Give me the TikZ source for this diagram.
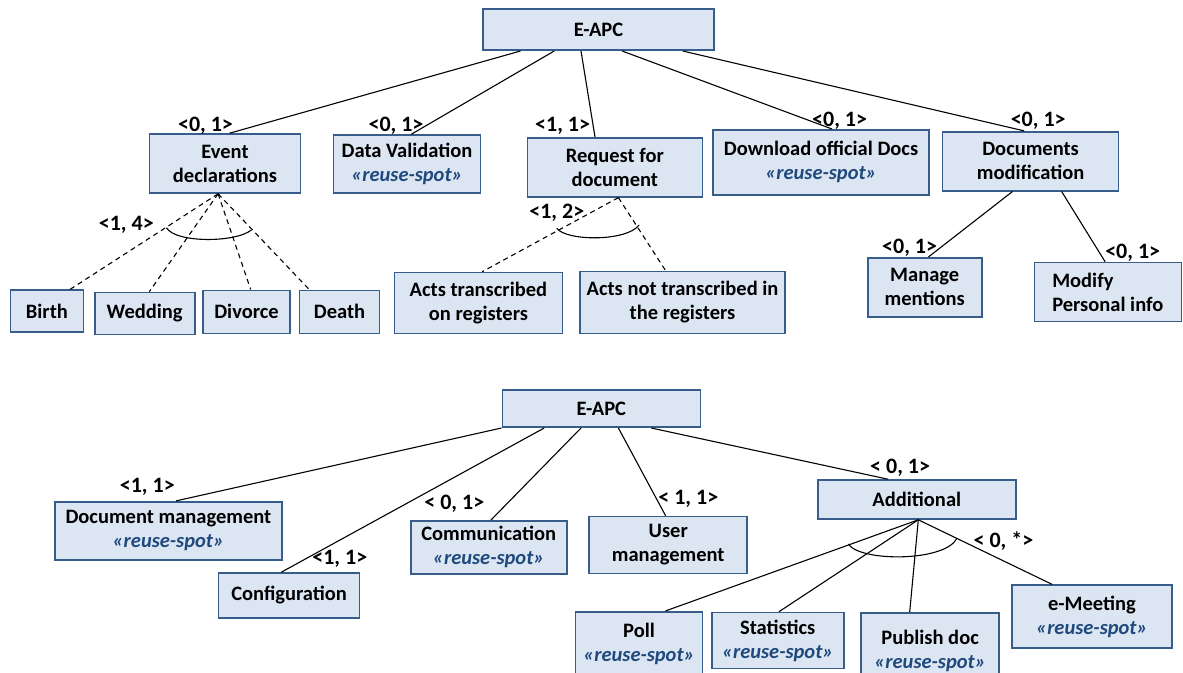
\documentclass[tikz,border=0pt]{standalone}
\usepackage{fontspec}
\setmainfont{Carlito}
\definecolor{boxfill}{HTML}{DCE6F2}
\definecolor{boxline}{HTML}{385D8A}
\definecolor{spotblue}{HTML}{1F497D}
\newcommand{\reusespot}{\textcolor{spotblue}{\itshape «reuse-spot»}}
\tikzset{feat/.style={draw=boxline, fill=boxfill, line width=1.6pt, inner sep=0pt,
    align=center, font=\bfseries\fontsize{20.5}{24}\selectfont},
  card/.style={inner sep=0pt, font=\bfseries\fontsize{22}{24}\selectfont},
  opt/.style={line width=1.1pt},
  grp/.style={line width=1.1pt, dash pattern=on 5pt off 4pt}}

\begin{document}
\begin{tikzpicture}[x=1pt, y=-1pt]
  \clip (0,0) rectangle (1183,672);
%% first tree
  \node[feat, minimum width=231, minimum height=41] (root) at (598.5,29.7) {E-APC};
  \node[feat, minimum width=151, minimum height=59] (evt) at (225,163.5) {Event\\declarations};
  \node[feat, minimum width=147, minimum height=58] (dval) at (407,164) {Data Validation\\\reusespot};
  \node[feat, minimum width=175, minimum height=59] (req) at (614.8,167.3) {Request for\\document};
  \node[feat, minimum width=216, minimum height=65] (dl) at (821,162.3) {Download official Docs\\\reusespot};
  \node[feat, minimum width=176, minimum height=59] (dmod) at (1030.6,161.2) {Documents\\modification};
  \node[feat, minimum width=114, minimum height=59] (mng) at (924.7,287.2) {Manage\\mentions};
  \node[feat, minimum width=147, minimum height=59, align=left] (mdf) at (1107.8,292) {Modify\\Personal info};
  \node[feat, minimum width=73, minimum height=42] (birth) at (46.9,311.2) {Birth};
  \node[feat, minimum width=100, minimum height=42] (wed) at (144.7,313.5) {Wedding};
  \node[feat, minimum width=87, minimum height=43] (div) at (246.5,311.8) {Divorce};
  \node[feat, minimum width=80, minimum height=43] (death) at (339.5,311.8) {Death};
  \node[feat, minimum width=168, minimum height=61] (acts) at (478.4,303) {Acts transcribed\\on registers};
  \node[feat, minimum width=205, minimum height=62] (actsn) at (682.5,302.4) {Acts not transcribed in\\the registers};

  \draw[opt] ([xshift=-78]root.south) -- ([xshift=4.6]evt.north);
  \draw[opt] ([xshift=-44.3]root.south) -- ([xshift=4.4]dval.north);
  \draw[opt] ([xshift=-17.5]root.south) -- ([xshift=-19.8]req.north);
  \draw[opt] ([xshift=23.6]root.south) -- ([xshift=11]dl.north);
  \draw[opt] ([xshift=84.2]root.south) -- ([xshift=-6.4]dmod.north);
  \draw[opt] ([xshift=-18.1]dmod.south) -- ([xshift=3.8]mng.north);
  \draw[opt] ([xshift=31]dmod.south) -- ([xshift=-2.7]mdf.north);

  \coordinate (evtj) at ([xshift=-6.9]evt.south);
  \foreach \n/\dx in {birth/23.1, wed/4.6, div/4.2, death/-30.3}
    \draw[grp] (evtj) -- ([xshift=\dx]\n.north);
  \draw[opt] (166.5,227.7) .. controls (175,243) and (235,243) .. (251.4,230);

  \coordinate (reqj) at ([xshift=3.6]req.south);
  \draw[grp] (reqj) -- ([xshift=3.8]acts.north);
  \draw[grp] (reqj) -- ([xshift=-16.9]actsn.north);
  \draw[opt] (556.8,228.3) .. controls (566,241) and (626,242) .. (639.2,225);

  \node[card] (c1) at (205.5,126) {<0, 1>};
  \node[card] (c2) at (396,126) {<0, 1>};
  \node[card] (c3) at (562.6,126) {<1, 1>};
  \node[card] (c4) at (839.6,121) {<0, 1>};
  \node[card] (c5) at (1038.2,121) {<0, 1>};
  \node[card] (c6) at (909.6,248) {<0, 1>};
  \node[card] (c7) at (1132.7,252.7) {<0, 1>};
  \node[card] (c8) at (126.3,225) {<1, 4>};
  \node[card] (c9) at (556.8,212.3) {<1, 2>};

%% second tree
  \node[feat, minimum width=198, minimum height=37] (root2) at (601.3,408.7) {E-APC};
  \node[feat, minimum width=227, minimum height=58] (dmg) at (168.4,530.7) {Document management\\\reusespot};
  \node[feat, minimum width=141, minimum height=45] (cfg) at (289.1,595.5) {Configuration};
  \node[feat, minimum width=156, minimum height=53] (com) at (488.7,547.3) {Communication\\\reusespot};
  \node[feat, minimum width=158, minimum height=57] (usr) at (668.2,545) {User\\management};
  \node[feat, minimum width=198, minimum height=39] (add) at (916.8,499.5) {Additional};
  \node[feat, minimum width=127, minimum height=65] (poll) at (639,644.2) {Poll\\\reusespot};
  \node[feat, minimum width=132, minimum height=56] (stat) at (777.7,640.5) {Statistics\\\reusespot};
  \node[feat, minimum width=138, minimum height=76] (pub) at (930.1,650.7) {Publish doc\\\reusespot};
  \node[feat, minimum width=160, minimum height=63] (emeet) at (1091.9,616.7) {e-Meeting\\\reusespot};

  \draw[opt] (root2.south west) -- ([xshift=7.6]dmg.north);
  \draw[opt] ([xshift=-57.1]root2.south) -- ([xshift=-7.8]cfg.north);
  \draw[opt] ([xshift=-20.3]root2.south) -- ([xshift=2.3]com.north);
  \draw[opt] ([xshift=17.1]root2.south) -- ([xshift=-2.6]usr.north);
  \draw[opt] ([xshift=50]root2.south) -- ([xshift=-28.8]add.north);

  \coordinate (addj) at ([xshift=1.5]add.south);
  \foreach \n/\dx in {poll/26.6, stat/1.3, pub/-20.4, emeet/-39.7}
    \draw[opt] (addj) -- ([xshift=\dx]\n.north);
  \draw[opt] (848.3,544) .. controls (860,562) and (945,562) .. (956.9,538.3);

  \node[card] (d1) at (147.3,487.3) {<1, 1>};
  \node[card] (d2) at (339.8,559) {<1, 1>};
  \node[card] (d3) at (454.3,504) {< 0, 1>};
  \node[card] (d4) at (688.3,499.3) {< 1, 1>};
  \node[card] (d5) at (900.1,467.7) {< 0, 1>};
  \node[card] (d6) at (1003.4,540.7) {< 0, *>};
\end{tikzpicture}
\end{document}
